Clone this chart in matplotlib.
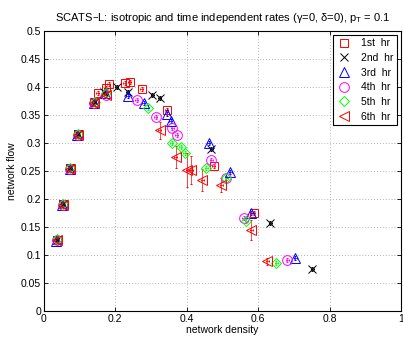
import matplotlib
matplotlib.use('Agg')
import matplotlib.pyplot as plt

plt.rcParams['font.family'] = ['Liberation Sans', 'DejaVu Sans']

labels = ['1st  hr', '2nd  hr', '3rd  hr', '4th  hr', '5th  hr', '6th  hr']

# network density / network flow per hour
d1 = [0.036, 0.053, 0.073, 0.095, 0.140, 0.151, 0.173, 0.182, 0.226, 0.240, 0.274, 0.344, 0.475, 0.587]
f1 = [0.127, 0.191, 0.255, 0.316, 0.373, 0.389, 0.398, 0.405, 0.407, 0.409, 0.396, 0.359, 0.259, 0.175]

d2 = [0.036, 0.053, 0.073, 0.095, 0.142, 0.168, 0.204, 0.235, 0.304, 0.324, 0.469, 0.634, 0.751]
f2 = [0.127, 0.191, 0.255, 0.316, 0.373, 0.391, 0.400, 0.391, 0.386, 0.380, 0.289, 0.157, 0.075]

d3 = [0.035, 0.052, 0.072, 0.094, 0.139, 0.170, 0.235, 0.279, 0.346, 0.355, 0.461, 0.522, 0.581, 0.704]
f3 = [0.125, 0.189, 0.253, 0.314, 0.371, 0.389, 0.384, 0.371, 0.352, 0.339, 0.300, 0.248, 0.175, 0.095]

d4 = [0.036, 0.053, 0.073, 0.095, 0.141, 0.173, 0.260, 0.313, 0.360, 0.372, 0.469, 0.511, 0.559, 0.682]
f4 = [0.127, 0.190, 0.254, 0.315, 0.372, 0.386, 0.377, 0.346, 0.327, 0.314, 0.270, 0.238, 0.166, 0.091]

d5 = [0.037, 0.054, 0.074, 0.096, 0.142, 0.175, 0.291, 0.358, 0.383, 0.394, 0.455, 0.511, 0.567, 0.651]
f5 = [0.128, 0.192, 0.256, 0.317, 0.374, 0.389, 0.363, 0.300, 0.293, 0.282, 0.255, 0.238, 0.161, 0.086]

d6 = [0.037, 0.054, 0.074, 0.096, 0.141, 0.173, 0.324, 0.369, 0.402, 0.413, 0.444, 0.497, 0.581, 0.626]
f6 = [0.126, 0.190, 0.254, 0.315, 0.372, 0.386, 0.323, 0.275, 0.252, 0.252, 0.234, 0.225, 0.145, 0.089]
ferr6 = [0.004, 0.004, 0.004, 0.004, 0.005, 0.005, 0.015, 0.02, 0.03, 0.025, 0.02, 0.012, 0.018, 0.006]

xs = [d1, d2, d3, d4, d5, d6]
ys = [f1, f2, f3, f4, f5, f6]
markers = ['s', 'x', '^', 'o', 'D', '<']
colors = ['#ff0000', '#000000', '#0000ff', '#ff00ff', '#00ff00', '#ff0000']
sizes = [6, 5.5, 7, 7, 5.5, 7.5]

fig = plt.figure(figsize=(4.03, 3.37), dpi=100)
ax = fig.add_axes([0.109, 0.077, 0.886, 0.831])

for i in range(6):
    yerr = ferr6 if i == 5 else 0.004
    ax.errorbar(xs[i], ys[i], xerr=0.004, yerr=yerr, fmt=markers[i], color=colors[i],
                mfc='none', mec=colors[i], ms=sizes[i], mew=0.7, elinewidth=0.5,
                capsize=1, label=labels[i])

ax.set_xlim(0, 1)
ax.set_ylim(0, 0.5)
ax.set_xticks([0, 0.2, 0.4, 0.6, 0.8, 1])
ax.set_xticklabels(['0', '0.2', '0.4', '0.6', '0.8', '1'])
ax.set_yticks([0, 0.05, 0.1, 0.15, 0.2, 0.25, 0.3, 0.35, 0.4, 0.45, 0.5])
ax.set_yticklabels(['0', '0.05', '0.1', '0.15', '0.2', '0.25', '0.3', '0.35', '0.4', '0.45', '0.5'])
ax.tick_params(direction='in', labelsize=7.5, length=3, width=0.6, top=True, right=True, pad=2)
ax.grid(True, linestyle=(0, (1, 2.5)), color='#999999', linewidth=0.6)
for s in ax.spines.values():
    s.set_linewidth(0.8)

ax.set_xlabel('network density', fontsize=7.5, labelpad=1)
ax.set_ylabel('network flow', fontsize=7.5, labelpad=3)
ax.set_title('SCATS\u2013L: isotropic and time independent rates (\u03b3=0, \u03b4=0), p$_\\mathregular{T}$ = 0.1',
             fontsize=8, pad=7)

# legend shows markers only
handles, labs = ax.get_legend_handles_labels()
handles = [h[0] for h in handles]
leg = ax.legend(handles, labs, loc='upper right', fontsize=7.5, fancybox=False,
                framealpha=1, edgecolor='black', borderpad=0.3, labelspacing=0.45,
                handlelength=1.5, handletextpad=0.9, borderaxespad=0.4)
leg.get_frame().set_linewidth(0.8)

fig.savefig('out.png', dpi=100)
